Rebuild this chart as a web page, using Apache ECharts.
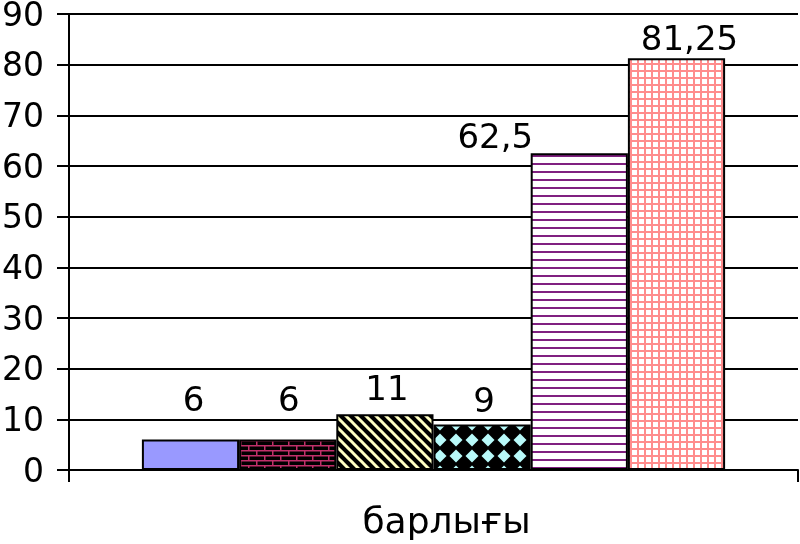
<!DOCTYPE html>
<html>
<head>
<meta charset="utf-8">
<script src="https://cdn.jsdelivr.net/npm/echarts@6/dist/echarts.min.js"></script>
<style>
html,body{margin:0;padding:0;background:#fff;}
#chart{width:800px;height:544px;}
</style>
</head>
<body>
<div id="chart"></div>
<script>
// ---- data ----
var categories = ['барлығы'];
var seriesNames = ['1', '2', '3', '4', '5', '6'];
var seriesValues = [6, 6, 11, 9, 62.5, 81.25];
var yTicks = [0, 10, 20, 30, 40, 50, 60, 70, 80, 90];

// label nudges [dx, dy] (layout only)
var labelNudges = [[3, -20], [1, -20], [2, -6], [2, -4], [-84, 3], [13, 0]];

function makeCanvas(w, h, draw) {
  var c = document.createElement('canvas');
  c.width = w; c.height = h;
  var ctx = c.getContext('2d');
  draw(ctx, w, h);
  return c;
}
// patterns
var patSolid = '#9999FF';
var patBrick = makeCanvas(16, 10, function (ctx, w, h) {
  ctx.fillStyle = '#000'; ctx.fillRect(0, 0, w, h);
  ctx.fillStyle = '#C0306A';
  ctx.fillRect(0, 0, w, 1.5);
  ctx.fillRect(0, 5, w, 1.5);
  ctx.fillRect(0, 0, 1.5, 5);
  ctx.fillRect(8, 5, 1.5, 5);
});
var patDiag = makeCanvas(10, 10, function (ctx, w, h) {
  ctx.fillStyle = '#000'; ctx.fillRect(0, 0, w, h);
  ctx.strokeStyle = '#FFFFC4'; ctx.lineWidth = 3;
  for (var k = -1; k <= 1; k++) {
    ctx.beginPath();
    ctx.moveTo(k * w - 2, -2);
    ctx.lineTo(k * w + w + 2, h + 2);
    ctx.stroke();
  }
});
var patDiamond = makeCanvas(16, 16, function (ctx, w, h) {
  ctx.fillStyle = '#000'; ctx.fillRect(0, 0, w, h);
  ctx.fillStyle = '#B8FAFA';
  ctx.beginPath();
  ctx.moveTo(8, 1.5); ctx.lineTo(14.5, 8); ctx.lineTo(8, 14.5); ctx.lineTo(1.5, 8);
  ctx.closePath(); ctx.fill();
});
var patHStripe = makeCanvas(4, 8, function (ctx, w, h) {
  ctx.fillStyle = '#fff'; ctx.fillRect(0, 0, w, h);
  ctx.fillStyle = '#802080'; ctx.fillRect(0, 3, w, 2);
});
var patGrid = makeCanvas(7, 7, function (ctx, w, h) {
  ctx.fillStyle = '#fff'; ctx.fillRect(0, 0, w, h);
  ctx.fillStyle = '#FF8C8C';
  ctx.fillRect(0, 0, w, 2);
  ctx.fillRect(0, 0, 2, h);
});
var fills = [
  patSolid,
  { image: patBrick, repeat: 'repeat' },
  { image: patDiag, repeat: 'repeat' },
  { image: patDiamond, repeat: 'repeat' },
  { image: patHStripe, repeat: 'repeat' },
  { image: patGrid, repeat: 'repeat' }
];

var FONT = 'DejaVu Sans';
var series = seriesValues.map(function (v, i) {
  return {
    name: seriesNames[i],
    type: 'bar',
    barGap: 0,
    barCategoryGap: '20%',
    data: [v],
    itemStyle: { color: fills[i], borderColor: '#000', borderWidth: 2 },
    label: {
      show: true,
      position: 'top',
      distance: 0,
      offset: labelNudges[i],
      color: '#000',
      fontFamily: FONT,
      fontSize: 34,
      formatter: function (p) { return String(p.value).replace('.', ','); }
    },
    animation: false
  };
});

var chart = echarts.init(document.getElementById('chart'), null, { renderer: 'canvas' });
chart.setOption({
  backgroundColor: '#fff',
  animation: false,
  grid: { left: 69, right: 2, top: 14, bottom: 74, containLabel: false, outerBoundsMode: 'none' },
  xAxis: {
    type: 'category',
    data: categories,
    axisLine: { lineStyle: { color: '#000', width: 2 } },
    axisTick: { show: true, length: 12, lineStyle: { color: '#000', width: 2 } },
    axisLabel: { color: '#000', fontFamily: FONT, fontSize: 36, margin: 36, padding: [0, 0, 0, 26] }
  },
  yAxis: {
    type: 'value',
    min: yTicks[0],
    max: yTicks[yTicks.length - 1],
    interval: yTicks[1] - yTicks[0],
    axisLine: { show: true, lineStyle: { color: '#000', width: 2 } },
    axisTick: { show: true, length: 12, lineStyle: { color: '#000', width: 2 } },
    splitLine: { show: true, lineStyle: { color: '#000', width: 2 } },
    axisLabel: { color: '#000', fontFamily: FONT, fontSize: 33, margin: 25, verticalAlign: 'top', lineHeight: 6 }
  },
  series: series
});
</script>
</body>
</html>
